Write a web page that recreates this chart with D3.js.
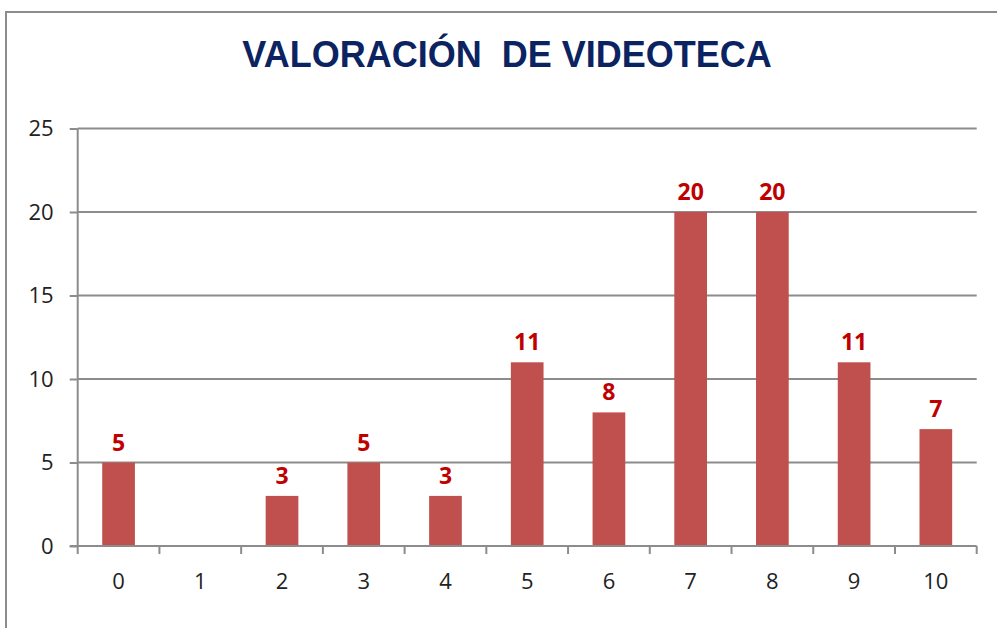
<!DOCTYPE html>
<html>
<head>
<meta charset="utf-8">
<script src="https://cdn.jsdelivr.net/npm/d3@7"></script>
<style>
  body { margin: 0; background: #fff; }
  svg { display: block; }
</style>
</head>
<body>
<svg id="chart" width="997" height="628"></svg>
<script>
var categories = ["0", "1", "2", "3", "4", "5", "6", "7", "8", "9", "10"];
var values = [5, 0, 3, 5, 3, 11, 8, 20, 20, 11, 7];
var yTicks = [0, 5, 10, 15, 20, 25];
var title = "VALORACIÓN  DE VIDEOTECA";

var svg = d3.select("#chart"),
  plotLeft = 77.7,
  plotRight = 976.7,
  plotTop = 128.5,
  plotBottom = 546;

// outer chart frame (runs off the right/bottom edges)
svg.append("rect")
  .attr("x", 6)
  .attr("y", 12)
  .attr("width", 1100)
  .attr("height", 700)
  .attr("fill", "#fff")
  .attr("stroke", "#8c8c8c")
  .attr("stroke-width", 2);

svg.append("text")
  .attr("x", 507)
  .attr("y", 67)
  .attr("text-anchor", "middle")
  .attr("font-family", "Liberation Sans, Arial, sans-serif")
  .attr("font-weight", "bold")
  .attr("font-size", 36)
  .attr("fill", "#0b2361")
  .style("white-space", "pre")
  .text(title);

var x = d3.scaleBand()
  .domain(categories)
  .range([plotLeft, plotRight])
  .paddingInner(0.6)
  .paddingOuter(0.3);

var step = x.step();

var y = d3.scaleLinear()
  .domain([0, 25])
  .range([plotBottom, plotTop]);

// gridlines + y labels
var yAxis = svg.append("g")
  .attr("transform", "translate(" + plotLeft + ",0)")
  .call(d3.axisLeft(y).tickValues(yTicks).tickSize(8).tickPadding(16).tickFormat(d3.format("d")));
yAxis.select(".domain").remove();
yAxis.selectAll(".tick line").attr("stroke", "#8c8c8c").attr("stroke-width", 2);
yAxis.selectAll(".tick text")
  .attr("font-family", "Open Sans, sans-serif")
  .attr("font-size", 22)
  .attr("fill", "#222");

svg.append("g")
  .selectAll("line")
  .data(yTicks.filter(function(d) { return d > 0; }))
  .enter().append("line")
  .attr("x1", plotLeft)
  .attr("x2", plotRight)
  .attr("y1", function(d) { return y(d); })
  .attr("y2", function(d) { return y(d); })
  .attr("stroke", "#8c8c8c")
  .attr("stroke-width", 2);

// bars
svg.append("g")
  .selectAll("rect")
  .data(values)
  .enter().append("rect")
  .attr("x", function(d, i) { return x(categories[i]); })
  .attr("y", function(d) { return y(d); })
  .attr("width", x.bandwidth())
  .attr("height", function(d) { return y(0) - y(d); })
  .attr("fill", "#c0504d");

// value labels (no label for empty category)
svg.append("g")
  .selectAll("text")
  .data(values.map(function(v, i) { return {c: categories[i], v: v}; }).filter(function(d) { return d.v > 0; }))
  .enter().append("text")
  .attr("x", function(d) { return x(d.c) + x.bandwidth() / 2; })
  .attr("y", function(d) { return y(d.v) - 12; })
  .attr("text-anchor", "middle")
  .attr("font-family", "Open Sans, sans-serif")
  .attr("font-weight", "bold")
  .attr("font-size", 23)
  .attr("fill", "#c00000")
  .text(function(d) { return d.v; });

// axes lines
var xg = svg.append("g");
xg.append("line")
  .attr("x1", plotLeft - 8)
  .attr("x2", plotRight)
  .attr("y1", plotBottom)
  .attr("y2", plotBottom)
  .attr("stroke", "#8c8c8c")
  .attr("stroke-width", 2);
xg.append("line")
  .attr("x1", plotLeft)
  .attr("x2", plotLeft)
  .attr("y1", plotTop)
  .attr("y2", plotBottom + 8)
  .attr("stroke", "#8c8c8c")
  .attr("stroke-width", 2);

// ticks at category boundaries
xg.selectAll("line.tk")
  .data(categories)
  .enter().append("line")
  .attr("class", "tk")
  .attr("x1", function(d) { return x(d) + x.bandwidth() + step * 0.3; })
  .attr("x2", function(d) { return x(d) + x.bandwidth() + step * 0.3; })
  .attr("y1", plotBottom)
  .attr("y2", plotBottom + 8)
  .attr("stroke", "#8c8c8c")
  .attr("stroke-width", 2);

xg.selectAll("text")
  .data(categories)
  .enter().append("text")
  .attr("x", function(d) { return x(d) + x.bandwidth() / 2; })
  .attr("y", 589)
  .attr("text-anchor", "middle")
  .attr("font-family", "Open Sans, sans-serif")
  .attr("font-size", 22)
  .attr("fill", "#222")
  .text(function(d) { return d; });
</script>
</body>
</html>
